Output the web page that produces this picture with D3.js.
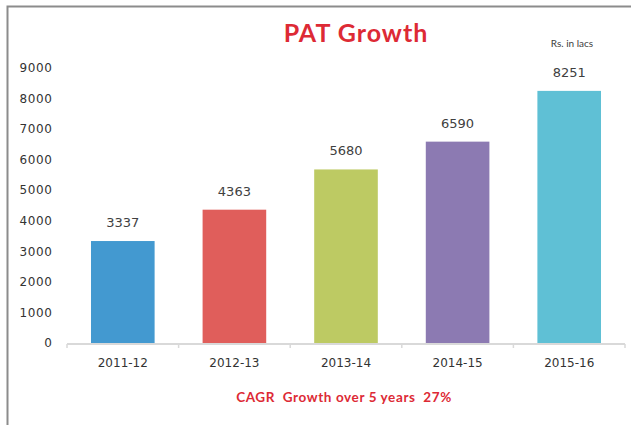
<!DOCTYPE html>
<html><head><meta charset="utf-8">
<script src="https://cdn.jsdelivr.net/npm/d3@7"></script>
<style>body{margin:0;background:#fff}svg{display:block}</style>
</head><body>
<script>
const categories = ["2011-12","2012-13","2013-14","2014-15","2015-16"];
const values = [3337,4363,5680,6590,8251];
const colors = ["#4399d0","#e05e5b","#bdca63","#8c7ab2","#5fc0d5"];
const yTicks = [0,1000,2000,3000,4000,5000,6000,7000,8000,9000];

const W=631,H=425;
const svg=d3.select("body").append("svg").attr("width",W).attr("height",H);
svg.append("rect").attr("width",W).attr("height",H).attr("fill","#fff");
// frame
svg.append("path").attr("d",`M7.5,${H} V6.5 H${W}`).attr("fill","none").attr("stroke","#8c8c8c").attr("stroke-width",2);

const x=d3.scaleBand().domain(categories).range([67,625]).paddingInner(0.43).paddingOuter(0.215);
const y=d3.scaleLinear().domain([0,9000]).range([343,68]);

// y labels
svg.append("g").selectAll("text").data(yTicks).join("text")
  .attr("x",52).attr("y",d=>y(d)).attr("dy","0.35em").attr("text-anchor","end")
  .attr("font-family","DejaVu Sans, sans-serif").attr("font-size",12).attr("fill","#333")
  .attr("textLength",d=>String(d).length*8.1).text(d=>d);

// bars
svg.append("g").selectAll("rect").data(values).join("rect")
  .attr("x",(d,i)=>x(categories[i])).attr("width",x.bandwidth())
  .attr("y",d=>y(d)).attr("height",d=>y(0)-y(d)).attr("fill",(d,i)=>colors[i]);

// x axis
const xa=d3.axisBottom(x).tickSize(0).tickPadding(14);
const gx=svg.append("g").attr("transform",`translate(0,${y(0)+1})`).call(xa);
gx.select(".domain").attr("stroke","#d9d9d9").attr("stroke-width",2).attr("d","M67,0H625");
gx.selectAll("text").attr("font-family","DejaVu Sans, sans-serif").attr("font-size",12).attr("fill","#333");
// tick marks at band boundaries
const bounds=d3.range(categories.length+1).map(i=>67+i*(625-67)/categories.length);
svg.append("g").selectAll("line").data(bounds).join("line")
  .attr("x1",d=>d).attr("x2",d=>d).attr("y1",y(0)+1).attr("y2",y(0)+5)
  .attr("stroke","#d9d9d9").attr("stroke-width",1.5);

// value labels
svg.append("g").selectAll("text").data(values).join("text")
  .attr("x",(d,i)=>x(categories[i])+x.bandwidth()/2).attr("y",d=>y(d)-14)
  .attr("text-anchor","middle").attr("font-family","DejaVu Sans, sans-serif")
  .attr("font-size",13).attr("fill","#404040").text(d=>d);

// title
svg.append("text").attr("x",356).attr("y",42).attr("text-anchor","middle")
  .attr("font-family","Lato, sans-serif").attr("font-weight","bold").attr("font-size",25)
  .attr("letter-spacing",1).attr("fill","#dd2a35").text("PAT Growth");
svg.append("text").attr("x",572).attr("y",47).attr("text-anchor","middle")
  .attr("font-family","Lato, sans-serif").attr("font-size",10).attr("fill","#404040").text("Rs. in lacs");
svg.append("text").attr("x",344).attr("y",402).attr("text-anchor","middle")
  .attr("font-family","Lato, sans-serif").attr("font-weight","bold").attr("font-size",13.5)
  .attr("letter-spacing",0.6).attr("fill","#dd2a35").attr("xml:space","preserve").text("CAGR  Growth over 5 years  27%");
</script>
</body></html>
